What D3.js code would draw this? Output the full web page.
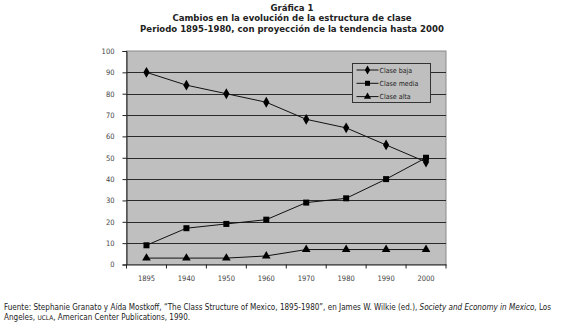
<!DOCTYPE html>
<html>
<head>
<meta charset="utf-8">
<script src="https://cdn.jsdelivr.net/npm/d3@7"></script>
<style>
  body { margin: 0; background: #fff; }
  svg text { font-family: "DejaVu Sans Condensed", "DejaVu Sans", sans-serif; }
</style>
</head>
<body>
<svg class="chart"></svg>
<script>
var width = 576;
var height = 326;

// data
var years = ['1895', '1940', '1950', '1960', '1970', '1980', '1990', '2000'];
var claseBaja = [90, 84, 80, 76, 68, 64, 56, 48];
var claseMedia = [9, 17, 19, 21, 29, 31, 40, 50];
var claseAlta = [3, 3, 3, 4, 7, 7, 7, 7];
var seriesNames = ['Clase baja', 'Clase media', 'Clase alta'];
var yTicks = [0, 10, 20, 30, 40, 50, 60, 70, 80, 90, 100];
var titleLines = ['Gráfica 1',
  'Cambios en la evolución de la estructura de clase',
  'Periodo 1895-1980, con proyección de la tendencia hasta 2000'];

var chart = d3.select('.chart')
    .attr('width', width)
    .attr('height', height);

var plot = {'left': 126.5, 'right': 446, 'top': 51, 'bottom': 264.5};

var x = d3.scaleBand()
  .domain(years)
  .range([plot.left, plot.right]);

var y = d3.scaleLinear()
  .domain([0, 100])
  .range([plot.bottom, plot.top]);

// titles
chart.append('g')
  .selectAll('text')
  .data(titleLines)
  .join('text')
    .attr('x', 292)
    .attr('y', function(d, i){ return 10.5 + i * 10.5; })
    .attr('text-anchor', 'middle')
    .attr('font-weight', 'bold')
    .attr('font-size', '9.5px')
    .attr('fill', '#222')
    .text(function(d){ return d; });

// plot background
chart.append('rect')
  .attr('x', plot.left)
  .attr('y', plot.top)
  .attr('width', plot.right - plot.left)
  .attr('height', plot.bottom - plot.top)
  .attr('fill', '#bfbfbf')
  .attr('stroke', '#8a8a8a')
  .attr('stroke-width', 1);

// grid lines
chart.append('g')
  .selectAll('line')
  .data(yTicks.filter(function(d){ return d > 0 && d < 100; }))
  .join('line')
    .attr('x1', plot.left)
    .attr('x2', plot.right)
    .attr('y1', function(d){ return Math.round(y(d)) + 0.5; })
    .attr('y2', function(d){ return Math.round(y(d)) + 0.5; })
    .attr('stroke', '#2a2a2a')
    .attr('stroke-width', 1);

// y axis
var y_axis = d3.axisLeft(y)
  .tickValues(yTicks)
  .tickSize(4)
  .tickPadding(8);

var gy = chart.append('g')
  .attr('transform', 'translate(' + plot.left + ',0)')
  .call(y_axis);
gy.select('.domain').attr('stroke', '#222');
gy.selectAll('.tick line').attr('stroke', '#222');
gy.selectAll('text').attr('font-size', '7.5px').attr('fill', '#444')
  .attr('font-family', '"DejaVu Sans Condensed", sans-serif');

// x axis, ticks between categories like the original
var x_axis = d3.axisBottom(x)
  .tickSize(0)
  .tickPadding(11);

var gx = chart.append('g')
  .attr('transform', 'translate(0,' + plot.bottom + ')')
  .call(x_axis);
gx.select('.domain').attr('stroke', '#222');
gx.selectAll('text').attr('font-size', '7.5px').attr('fill', '#444')
  .attr('font-family', '"DejaVu Sans Condensed", sans-serif');

gx.selectAll('.edge')
  .data(years.concat(['end']))
  .join('line')
    .attr('class', 'edge')
    .attr('x1', function(d){ return d === 'end' ? plot.right : x(d); })
    .attr('x2', function(d){ return d === 'end' ? plot.right : x(d); })
    .attr('y1', 0)
    .attr('y2', 4)
    .attr('stroke', '#222');

// series
var series = [
  {'name': seriesNames[0], 'values': claseBaja, 'symbol': d3.symbolDiamond, 'size': 34},
  {'name': seriesNames[1], 'values': claseMedia, 'symbol': d3.symbolSquare, 'size': 36},
  {'name': seriesNames[2], 'values': claseAlta, 'symbol': d3.symbolTriangle, 'size': 32}
];

var line = d3.line()
  .x(function(d, i){ return x(years[i]) + x.bandwidth() / 2; })
  .y(function(d){ return y(d); });

var gs = chart.append('g')
  .selectAll('g')
  .data(series)
  .join('g');

gs.append('path')
  .attr('d', function(d){ return line(d.values); })
  .attr('fill', 'none')
  .attr('stroke', '#111')
  .attr('stroke-width', 1);

gs.each(function(s){
  d3.select(this).selectAll('path.mark')
    .data(s.values)
    .join('path')
      .attr('class', 'mark')
      .attr('transform', function(d, i){
        return 'translate(' + (x(years[i]) + x.bandwidth() / 2) + ',' + y(d) + ')';
      })
      .attr('d', d3.symbol().type(s.symbol).size(s.size))
      .attr('fill', '#000');
});

// legend
var legend = chart.append('g')
  .attr('transform', 'translate(352.5,63.5)');

legend.append('rect')
  .attr('width', 78)
  .attr('height', 39)
  .attr('fill', '#bfbfbf')
  .attr('stroke', '#333');

var li = legend.selectAll('g.item')
  .data(series)
  .join('g')
    .attr('class', 'item')
    .attr('transform', function(d, i){ return 'translate(0,' + (6.5 + i * 13.3) + ')'; });

li.append('line')
  .attr('x1', 4)
  .attr('x2', 26)
  .attr('stroke', '#111');

li.append('path')
  .attr('transform', 'translate(15,0)')
  .attr('d', function(d){ return d3.symbol().type(d.symbol).size(d.size * 0.7)(); })
  .attr('fill', '#000');

li.append('text')
  .attr('x', 27)
  .attr('y', 2.5)
  .attr('font-size', '7px')
  .attr('fill', '#222')
  .attr('font-family', '"Liberation Sans Narrow", "Liberation Sans", sans-serif')
  .text(function(d){ return d.name; });

// source note
var note = chart.append('text')
  .attr('x', 4)
  .attr('y', 309.5)
  .attr('font-size', '8.05px')
  .attr('fill', '#222');

note.append('tspan').text('Fuente: Stephanie Granato y Aída Mostkoff, “The Class Structure of Mexico, 1895-1980”, en James W. Wilkie (ed.), ');
note.append('tspan').attr('font-style', 'italic').text('Society and Economy in Mexico');
note.append('tspan').text(', Los');

var note2 = chart.append('text')
  .attr('x', 4)
  .attr('y', 320)
  .attr('font-size', '8.05px')
  .attr('fill', '#222');
note2.append('tspan').text('Angeles, ');
note2.append('tspan').attr('font-size', '6.5px').text('UCLA');
note2.append('tspan').text(', American Center Publications, 1990.');
</script>
</body>
</html>
